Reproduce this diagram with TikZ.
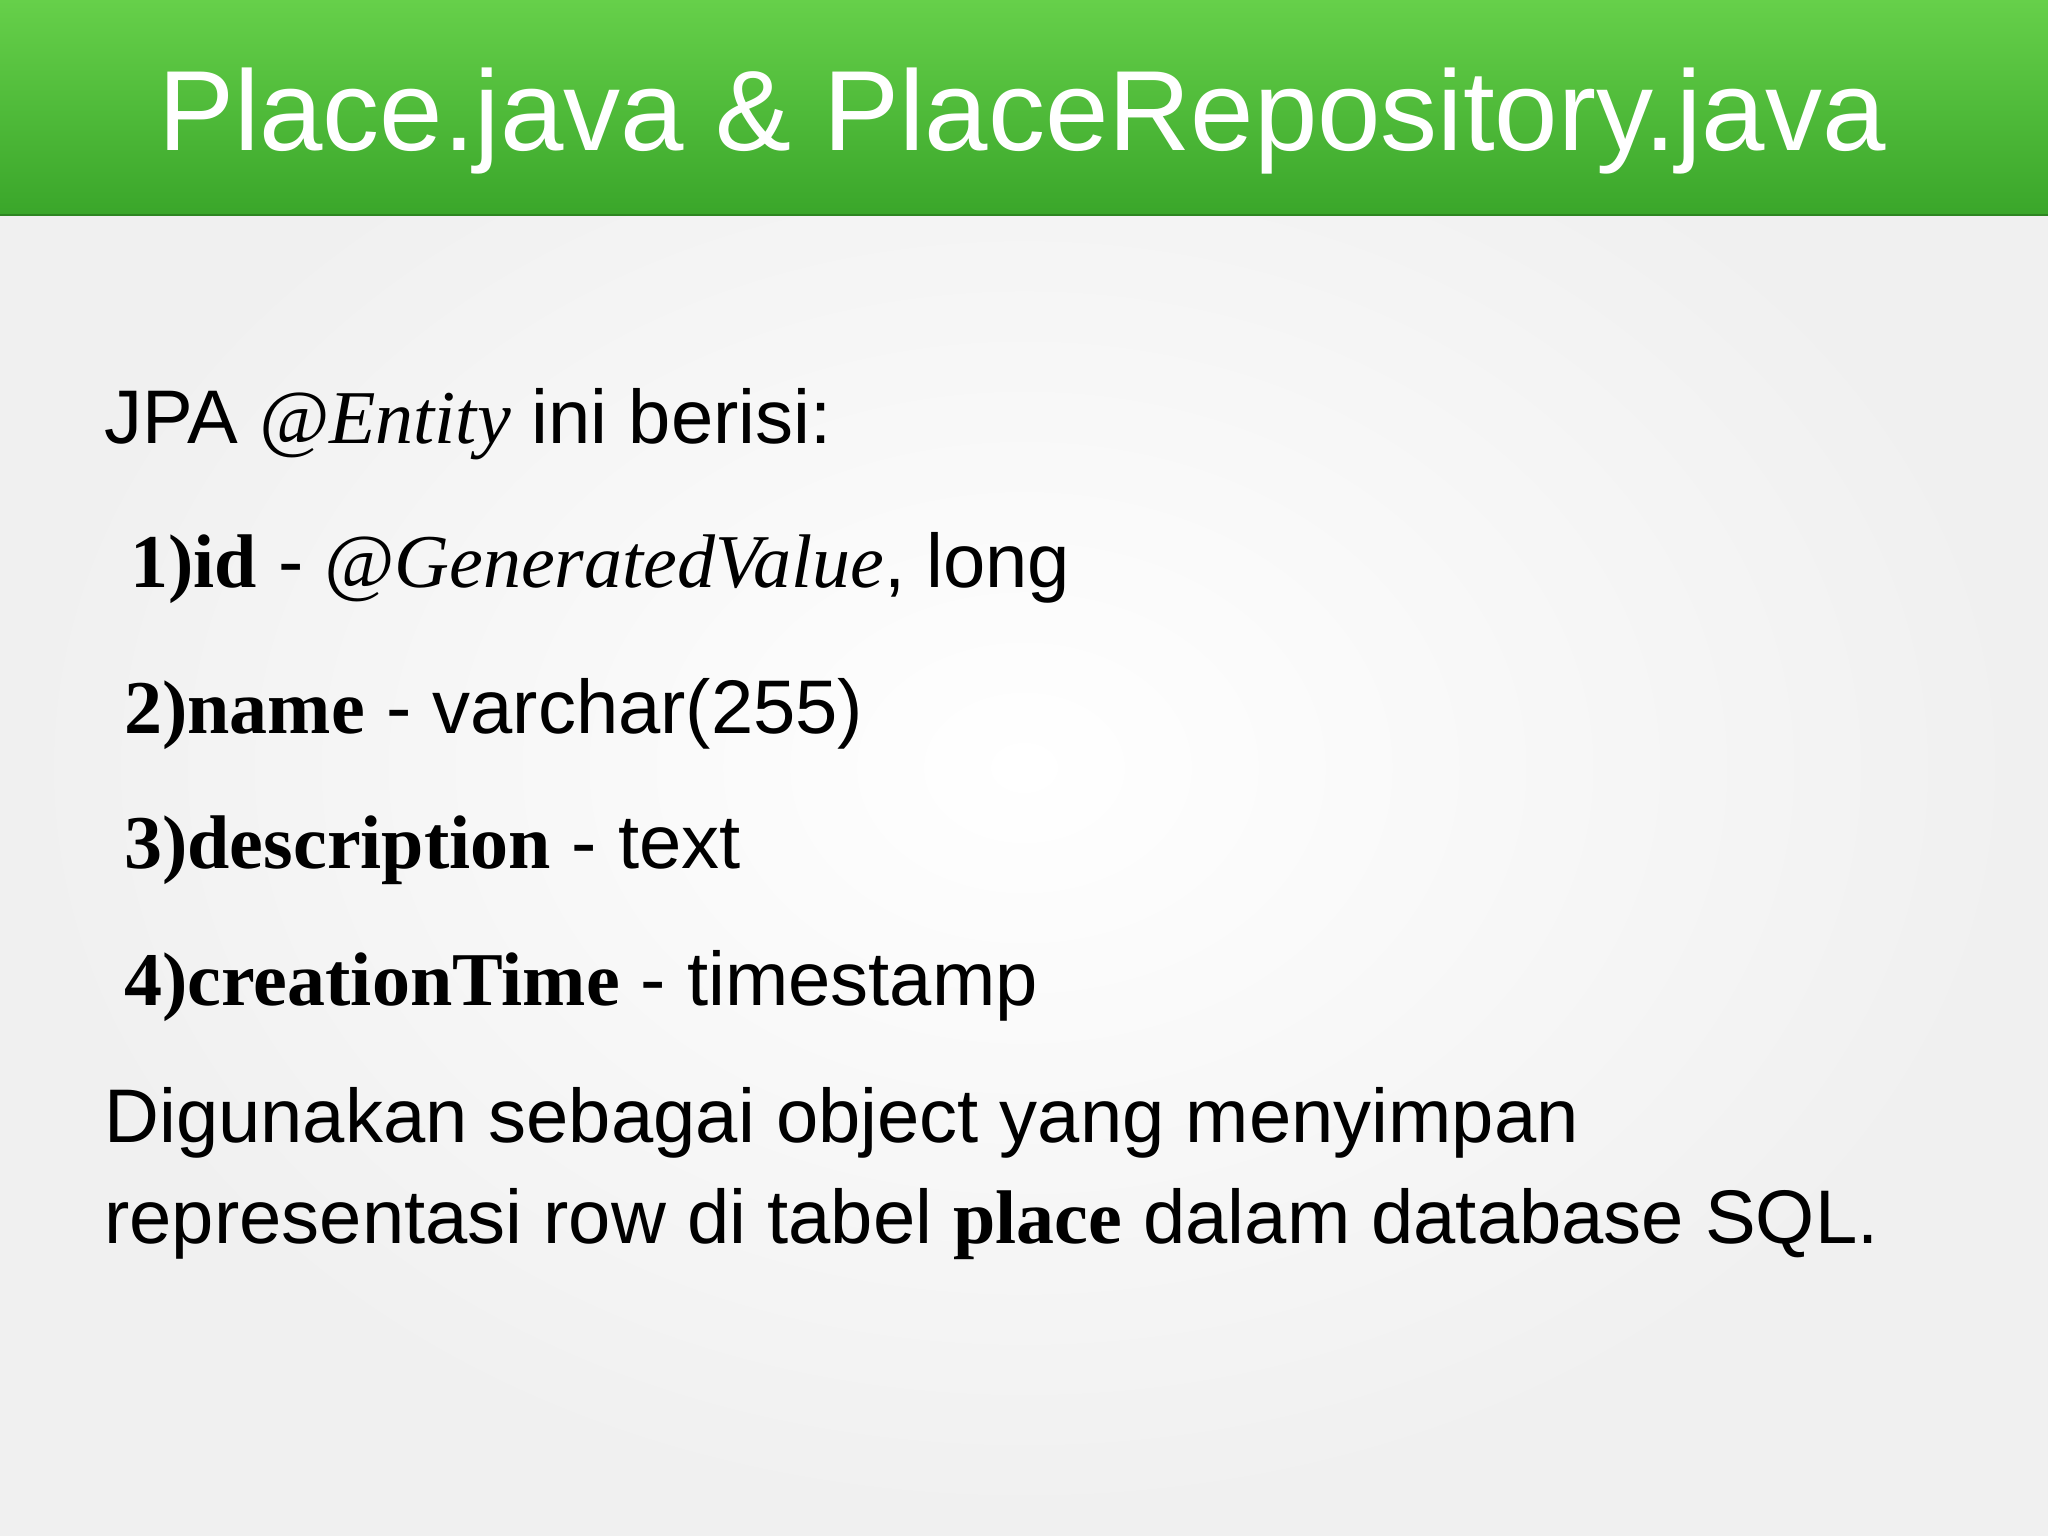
\documentclass[tikz,border=0pt]{standalone}
\usepackage{fontspec}
\setmainfont{Liberation Sans}
\newfontfamily\boldserif{Liberation Serif}
\usetikzlibrary{shadings}
\definecolor{gtop}{HTML}{66D04A}
\definecolor{gbot}{HTML}{3AA62A}
\begin{document}
\begin{tikzpicture}[x=1pt,y=1pt,
  body/.style={anchor=base west,inner sep=0,font=\fontsize{38}{42}\selectfont,text=black}]
\useasboundingbox (0,0) rectangle (1024,767.5);
\shade[inner color=white,outer color=black!6] (0,0) rectangle (1024,767.5);
\shade[top color=gtop,bottom color=gbot] (0,660) rectangle (1024,767.5);
\draw[gbot!80!black,line width=1pt] (0,660) -- (1024,660);
\node[inner sep=0,text=white,font=\fontsize{57}{62}\selectfont,anchor=base] (title) at (511,692) {Place.java \& PlaceRepository.java};
\node[body] (l0) at (52,545.5) {JPA {\boldserif\itshape @Entity} ini berisi:};
\node[body] (l1) at (65,473.6) {{\boldserif\bfseries 1)id} - {\boldserif\itshape @GeneratedValue}, long};
\node[body] (l2) at (62,400.5) {{\boldserif\bfseries 2)name} - varchar(255)};
\node[body] (l3) at (62,333.3) {{\boldserif\bfseries 3)description} - text};
\node[body] (l4) at (62,264.7) {{\boldserif\bfseries 4)creationTime} - timestamp};
\node[body] (l5) at (52,196.1) {Digunakan sebagai object yang menyimpan};
\node[body] (l6) at (52,145.8) {representasi row di tabel {\boldserif\bfseries place} dalam database SQL.};
\end{tikzpicture}
\end{document}
